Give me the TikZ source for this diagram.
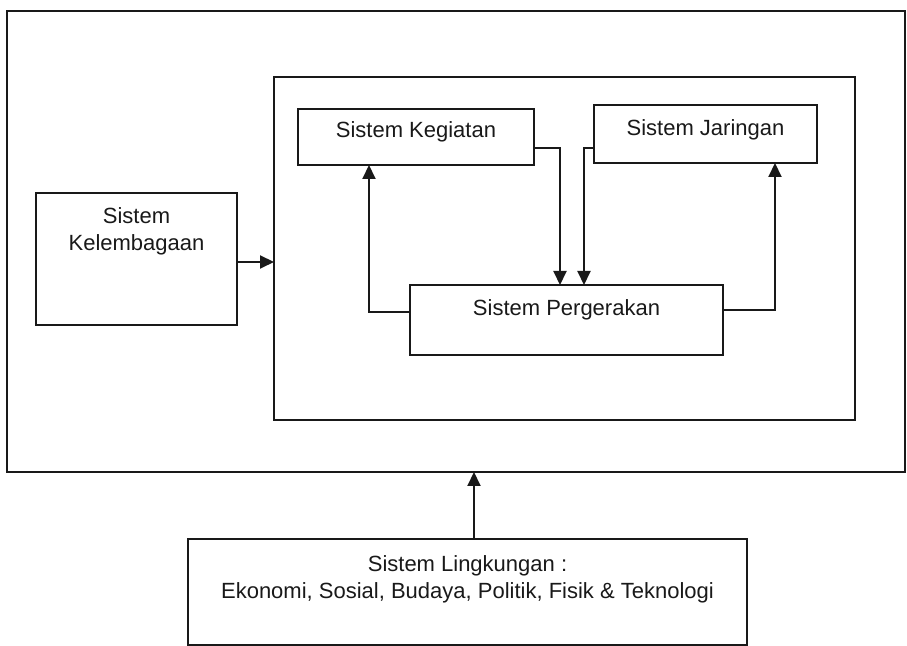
\documentclass[tikz,border=0pt]{standalone}
\usepackage{fontspec}
\setmainfont{Liberation Sans}
\usetikzlibrary{arrows.meta}
\begin{document}
\begin{tikzpicture}[x=0.5pt,y=-0.5pt,
  box/.style={draw=black!90, line width=1pt, inner sep=0pt, outer sep=0pt, fill=none},
  txt/.style={font=\fontsize{11}{13.5}\selectfont, inner sep=0pt, align=center, text=black!90},
  arr/.style={draw=black!90, line width=1pt, -{Triangle[length=7pt,width=6.5pt]}}]
\useasboundingbox (0,0) rectangle (907,646);
% boxes
\node[box, minimum width=449pt, minimum height=230.5pt] (O) at (456,241.5) {};
\node[box, minimum width=290.5pt, minimum height=171.5pt] (I) at (564.5,248.5) {};
\node[box, minimum width=118pt, minimum height=28pt] (K) at (416,137) {};
\node[box, minimum width=111.5pt, minimum height=29pt] (J) at (705.5,134) {};
\node[box, minimum width=156.5pt, minimum height=35pt] (P) at (566.5,320) {};
\node[box, minimum width=100.5pt, minimum height=66pt] (L) at (136.5,259) {};
\node[box, minimum width=279.5pt, minimum height=53pt] (E) at (467.5,592) {};
% texts
\node[txt] (tK) at (416,132) {Sistem Kegiatan};
\node[txt] (tJ) at (705.5,130) {Sistem Jaringan};
\node[txt] (tP) at (566.5,310) {Sistem Pergerakan};
\node[txt] (tL) at (136.5,231) {Sistem\\Kelembagaan};
\node[txt] (tE) at (467.5,579) {Sistem Lingkungan :\\Ekonomi, Sosial, Budaya, Politik, Fisik \& Teknologi};
% connectors
\draw[arr] (K.east |- 0,148) -| (P.north -| 560,0);
\draw[arr] (J.west |- 0,148) -| (P.north -| 584,0);
\draw[arr] (P.west |- 0,312) -| (K.south -| 369,0);
\draw[arr] (P.east |- 0,310) -| (J.south -| 775,0);
\draw[arr] (L.east |- 0,262) -- (I.west |- 0,262);
\draw[arr] (E.north -| 474,0) -- (O.south -| 474,0);
\end{tikzpicture}
\end{document}
